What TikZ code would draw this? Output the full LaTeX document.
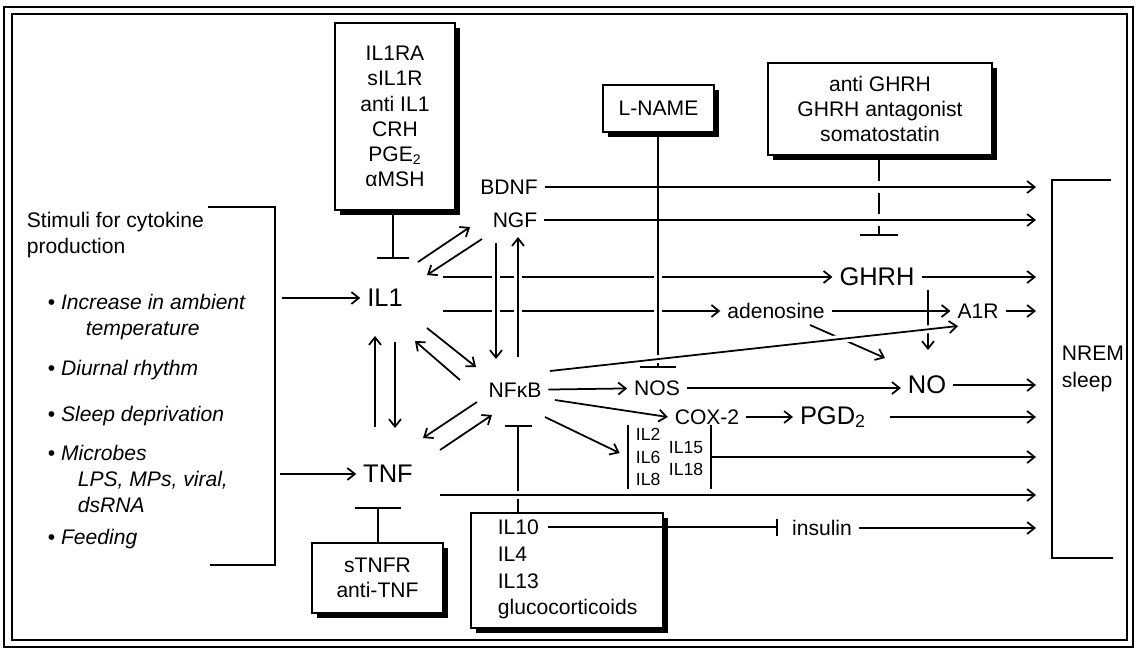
\documentclass[tikz,border=0pt]{standalone}
\usepackage{fontspec}
\setmainfont{Liberation Sans}
\usetikzlibrary{arrows.meta,calc,fit,shadows}
\tikzset{
  inhib/.style={-{Bar[width=#1]}}
}

\begin{document}
\begin{tikzpicture}[
  x=0.02cm, y=-0.02cm,
  line width=1pt,
  every node/.style={inner sep=3.5pt,font=\fontsize{12}{14.4}\selectfont},
  bigtxt/.style={font=\fontsize{14.5}{17}\selectfont},
  smalltxt/.style={font=\fontsize{10}{13}\selectfont,inner sep=0pt,anchor=west,align=left},
  stim/.style={anchor=west,align=left,inner sep=0pt,font=\fontsize{12}{14.8}\selectfont},
  shbox/.style={draw,fill=white,line width=1.2pt,inner sep=0pt,align=center,
    drop shadow={shadow xshift=0.1cm,shadow yshift=-0.1cm,fill=black,opacity=1}},
  arr/.style={-{Straight Barb[length=1.5mm,width=2.4mm]}},
  crossover/.style={preaction={draw=white,line width=4.5pt,-,shorten <=0.2cm,shorten >=0.2cm}}
]
\useasboundingbox (0,0) rectangle (1137,650);
\draw[line width=1.2pt] (4,7) rectangle (1133,647);
\draw[line width=0.8pt] (12,14) rectangle (1127,640);

\node[stim] (stimhead) at (26,235) {Stimuli for cytokine\\production};
\node[stim] (stim1) at (47,317)
  {\textbullet\ \textit{Increase in ambient}\\\hspace*{0.76cm}\textit{temperature}};
\node[stim] (stim2) at (47,370) {\textbullet\ \textit{Diurnal rhythm}};
\node[stim] (stim3) at (47,416) {\textbullet\ \textit{Sleep deprivation}};
\node[stim] (stim4) at (47,479)
  {\textbullet\ \textit{Microbes}\\\hspace*{0.6cm}\textit{LPS, MPs, viral,}\\\hspace*{0.6cm}\textit{dsRNA}};
\node[stim] (stim5) at (47,539) {\textbullet\ \textit{Feeding}};
\draw (208,207) -- (275,207) -- (275,565) -- (210,565);
\coordinate (stimil1) at (282,298);
\coordinate (stimtnf) at (280,474);

\node[stim,font=\fontsize{12}{15.4}\selectfont] (sleep) at (1061,369) {NREM\\sleep};
\draw (1111,180) -- (1052,180) -- (1052,558) -- (1113,558);
\coordinate (sleepin) at (1036,369);

\node[bigtxt] (il1) at (385,298) {IL1};
\node[bigtxt] (tnf) at (388,474) {TNF};
\node (bdnf) at (509,187) {BDNF};
\node (ngf) at (515,220) {NGF};
\node (nfkb) at (515,390) {NFκB};
\node (nos) at (657,388) {NOS};
\node[bigtxt] (no) at (927,385) {NO};
\node (cox) at (707,417) {COX-2};
\node[bigtxt] (pgd) at (833,417) {PGD\textsubscript{2}};
\node[bigtxt] (ghrh) at (877,277) {GHRH};
\node (adeno) at (776,311) {adenosine};
\node (a1r) at (978,311) {A1R};
\node (insulin) at (822,528) {insulin};
\node[smalltxt] (ilA) at (635,457) {IL2\\IL6\\IL8};
\node[smalltxt,font=\fontsize{10}{12.5}\selectfont] (ilB) at (668,459) {IL15\\IL18};
\node[inner xsep=0.13cm,inner ysep=0.03cm,fit=(ilA)(ilB)] (ilgrp) {};
\draw (ilgrp.north west) -- (ilgrp.south west);
\draw (ilgrp.north east) -- (ilgrp.south east);

\node[shbox,minimum width=2.4cm,minimum height=3.74cm] (il1inh) at (395,116.5)
  {IL1RA\\sIL1R\\anti IL1\\CRH\\PGE\textsubscript{2}\\αMSH};
\node[shbox,minimum width=2.22cm,minimum height=0.94cm] (lname) at (658.5,108.5) {L-NAME};
\node[shbox,minimum width=4.48cm,minimum height=1.84cm,font=\fontsize{12}{14.2}\selectfont]
  (ghrhinh) at (880,109) {anti GHRH\\GHRH antagonist\\somatostatin};
\node[shbox,minimum width=2.62cm,minimum height=1.4cm] (tnfinh) at (377.5,578) {sTNFR\\anti-TNF};
\node[shbox,minimum width=3.84cm,minimum height=2.3cm] (antiinf) at (567,570.5) {};
\node[anchor=north west,align=left,inner sep=0pt,font=\fontsize{12}{15.2}\selectfont]
  (antitext) at (497,519) {IL10\\IL4\\IL13\\glucocorticoids};

\coordinate (il1bar) at (393,259);
\coordinate (tnfbar) at (378,507);
\coordinate (nfkbbar) at (518,425);
\coordinate (nosbar) at (658,368);
\coordinate (ghrhbar) at (879,236);
\coordinate (il10) at (548,527);
\coordinate (ghrhno) at (928,290);
\coordinate (noin) at (928,350);
\coordinate (tnfout) at ($(tnf)+(52,21)$);

\draw[arr] (stimil1) -- (il1);
\draw[arr] (stimtnf) -- (tnf);
\draw[inhib=0.64cm] (il1inh.south -| il1bar) -- (il1bar);
\draw[inhib=0.92cm] (tnfinh.north -| tnfbar) -- (tnfbar);

\draw[arr] ($(il1)+(58,-21)$) -- (ghrh);
\draw[arr] ($(il1)+(58,13)$) -- (adeno);
\draw[arr,crossover] ($(ngf)+(-19,23)$) -- ($(nfkb)+(-19,-31)$);
\draw[arr,crossover] ($(nfkb)+(3,-33)$) -- ($(ngf)+(3,17)$);
\draw[inhib=0.72cm,crossover] (lname.south -| nosbar) -- (nosbar);

\draw[inhib=0.76cm] (ghrhinh.south -| ghrhbar) -- (ghrhbar);
\foreach \y in {187,220}
  \fill[white] (873,\y-6) rectangle (885,\y+6);
\draw[arr] (bdnf) -- (bdnf -| sleepin);
\draw[arr] (ngf) -- (ngf -| sleepin);

\draw[arr] ($(il1)+(33,-36)$) -- ($(ngf)+(-45,7)$);
\draw[arr] ($(ngf)+(-33,19)$) -- ($(il1)+(42,-23)$);
\draw[arr] ($(il1)+(42,30)$) -- ($(nfkb)+(-39,-23)$);
\draw[arr] ($(nfkb)+(-55,-10)$) -- ($(il1)+(30,43)$);
\draw[arr] ($(tnf)+(-13,-47)$) -- ($(il1)+(-10,38)$);
\draw[arr] ($(il1)+(10,44)$) -- ($(tnf)+(7,-46)$);
\draw[arr] ($(nfkb)+(-38,12)$) -- ($(tnf)+(35,-36)$);
\draw[arr] ($(tnf)+(52,-24)$) -- ($(nfkb)+(-23,25)$);

\draw[arr] (ghrh) -- (ghrh -| sleepin);
\draw[arr] (adeno) -- (a1r);
\draw[arr] (a1r) -- (a1r -| sleepin);
\draw[arr] (ghrhno) -- (noin);
\draw[arr] ($(adeno)+(34,14)$) -- ($(no)+(-42,-27)$);
\draw[arr] (nfkb) -- (nos);
\draw[arr] (nos) -- (nos -| no.west);
\draw[arr] (no) -- (no -| sleepin);
\draw[arr,crossover] ($(nfkb)+(35,-19)$) -- ($(a1r)+(-20,15)$);
\draw[arr] ($(nfkb)+(40,10)$) -- (cox.west);
\draw[arr] (cox) -- (cox -| pgd.west);
\draw[arr] ($(pgd.east)+(17,0)$) -- (pgd -| sleepin);
\draw[arr] ($(nfkb)+(30,27)$) -- ($(ilgrp.west)+(-8,-4)$);
\draw[arr] (ilgrp.east) -- (ilgrp.east -| sleepin);

\draw[inhib=0.54cm] (antiinf.north -| nfkbbar) -- (nfkbbar);
\draw[arr,crossover] (tnfout) -- (tnfout -| sleepin);
\draw[inhib=0.34cm,shorten >=0.14cm] (il10) -- (il10 -| insulin.west);
\draw[arr] (insulin) -- (insulin -| sleepin);
\end{tikzpicture}
\end{document}
